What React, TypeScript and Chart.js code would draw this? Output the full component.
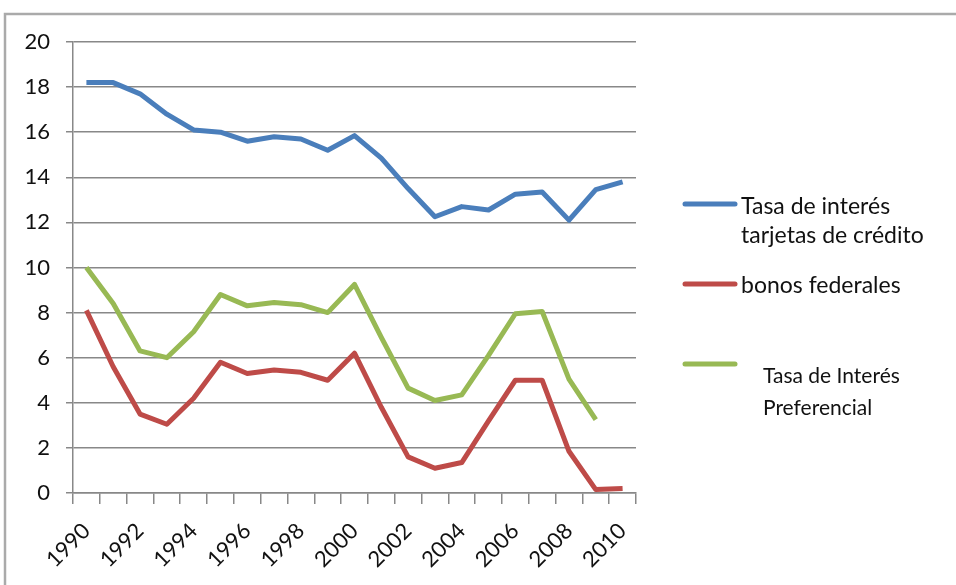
import React, { useEffect, useRef } from "react";
import { Chart, registerables } from "chart.js";

Chart.register(...registerables);

const years = ["1990", "1991", "1992", "1993", "1994", "1995", "1996", "1997", "1998", "1999", "2000", "2001", "2002", "2003", "2004", "2005", "2006", "2007", "2008", "2009", "2010"];
const creditCardRate = [18.2, 18.2, 17.7, 16.8, 16.1, 16.0, 15.6, 15.8, 15.7, 15.2, 15.85, 14.85, 13.5, 12.25, 12.7, 12.55, 13.25, 13.35, 12.1, 13.45, 13.8];
const federalBonds = [8.1, 5.6, 3.5, 3.05, 4.2, 5.8, 5.3, 5.45, 5.35, 5.0, 6.2, 3.8, 1.6, 1.1, 1.35, 3.2, 5.0, 5.0, 1.85, 0.15, 0.2];
const primeRate = [10.0, 8.4, 6.3, 6.0, 7.15, 8.8, 8.3, 8.45, 8.35, 8.0, 9.25, 6.9, 4.65, 4.1, 4.35, 6.1, 7.95, 8.05, 5.05, 3.25, null];
const seriesNames = [
  ["Tasa de interés", "tarjetas de crédito"],
  ["bonos federales"],
  ["Tasa de Interés", "Preferencial"],
];
const seriesColors = ["#4a7ebb", "#be4b48", "#98b954"];

const FONT = "Lato, 'Open Sans', sans-serif";

const frameAndLegend = {
  id: "frameAndLegend",
  beforeDraw(chart: any) {
    const ctx = chart.ctx;
    ctx.save();
    ctx.fillStyle = "#ffffff";
    ctx.fillRect(0, 0, chart.width, chart.height);
    ctx.strokeStyle = "#aaaaaa";
    ctx.lineWidth = 2.5;
    ctx.beginPath();
    ctx.moveTo(chart.width + 5, 14);
    ctx.lineTo(5, 14);
    ctx.lineTo(5, chart.height + 5);
    ctx.stroke();
    ctx.restore();
  },
  afterDraw(chart: any) {
    const ctx = chart.ctx;
    ctx.save();
    const items = [
      { lineY: 204, textX: 741, baselines: [214, 243], size: 23 },
      { lineY: 284, textX: 741, baselines: [293], size: 23 },
      { lineY: 364, textX: 763, baselines: [383, 415], size: 21 },
    ];
    chart.data.datasets.forEach((ds: any, i: number) => {
      const it = items[i];
      ctx.strokeStyle = ds.borderColor;
      ctx.lineWidth = 5;
      ctx.lineCap = "round";
      ctx.beginPath();
      ctx.moveTo(685, it.lineY);
      ctx.lineTo(735, it.lineY);
      ctx.stroke();
      ctx.fillStyle = "#111111";
      ctx.font = `${it.size}px ${FONT}`;
      ctx.textAlign = "left";
      ctx.textBaseline = "alphabetic";
      seriesNames[i].forEach((line, j) => {
        ctx.fillText(line, it.textX, it.baselines[j]);
      });
    });
    ctx.restore();
  },
};

export default function App() {
  const ref = useRef<HTMLCanvasElement>(null);
  useEffect(() => {
    if (!ref.current) return;
    const mk = (label: string, data: any[], color: string) => ({
      label,
      data,
      borderColor: color,
      backgroundColor: color,
      borderWidth: 5,
      pointRadius: 0,
      tension: 0,
      borderJoinStyle: "round" as const,
      borderCapStyle: "butt" as const,
      spanGaps: false,
    });
    const chart = new Chart(ref.current, {
      type: "line",
      data: {
        labels: years,
        datasets: [
          mk(seriesNames[0].join(" "), creditCardRate, seriesColors[0]),
          mk(seriesNames[1].join(" "), federalBonds, seriesColors[1]),
          mk(seriesNames[2].join(" "), primeRate, seriesColors[2]),
        ],
      },
      options: {
        animation: false,
        responsive: false,
        maintainAspectRatio: false,
        layout: { padding: { top: 42, right: 320, left: 0, bottom: 0 } },
        plugins: { legend: { display: false }, tooltip: { enabled: false } },
        scales: {
          x: {
            offset: true,
            grid: { offset: true, drawOnChartArea: false, drawTicks: true, tickLength: 11, color: "#888888", lineWidth: 1.5 },
            border: { color: "#888888", width: 1.5 },
            ticks: {
              autoSkip: false,
              maxRotation: 45,
              minRotation: 45,
              padding: 14,
              color: "#111111",
              font: { family: FONT, size: 22 },
              callback: (_v: any, i: number) => (i % 2 === 0 ? years[i] : ""),
            },
            afterFit: (s: any) => {
              s.height = 92;
              s.paddingLeft = 0;
              s.paddingRight = 0;
            },
          },
          y: {
            min: 0,
            max: 20,
            ticks: { stepSize: 2, padding: 16, color: "#111111", font: { family: FONT, size: 22 } },
            grid: { color: "#888888", lineWidth: 1.5, tickLength: 7 },
            border: { color: "#888888", width: 1.5 },
            afterFit: (s: any) => {
              s.width = 73;
              s.paddingTop = 0;
              s.paddingBottom = 0;
            },
          },
        },
      },
      plugins: [frameAndLegend],
    });
    return () => chart.destroy();
  }, []);
  return (
    <div style={{ position: "absolute", left: 0, top: 0, width: 956, height: 585, background: "#fff" }}>
      <canvas ref={ref} width={956} height={585} style={{ display: "block" }} />
    </div>
  );
}
